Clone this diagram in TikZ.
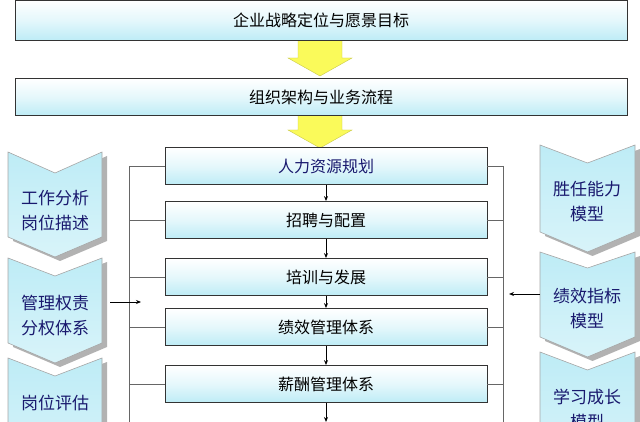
\documentclass[tikz,border=0pt]{standalone}
\usepackage{fontspec}
\setmainfont{Noto Sans CJK SC}
\usetikzlibrary{arrows.meta}
\definecolor{cyanl}{RGB}{190,236,246}
\definecolor{navy}{RGB}{25,25,110}
\definecolor{yel}{RGB}{250,250,90}
\tikzset{
 hbox/.style={draw=black!80,line width=0.8pt,top color=white,bottom color=cyanl,middle color=white!60!cyanl,minimum height=37pt,inner sep=0pt,font=\fontsize{16}{16}\selectfont},
 conn/.style={draw=black!60,line width=0.7pt},
 arr/.style={draw=black,line width=1pt,-{Stealth[length=5pt,width=4pt]}},
 chev/.style={draw=gray!70,line width=0.6pt,top color=cyanl,bottom color=white!40!cyanl},
 chevtxt/.style={text=navy,font=\fontsize{17}{25}\selectfont,align=center},
 yarrow/.style={fill=yel,draw=yel!80!black,line width=0.4pt}
}
\newcommand{\chevron}[5]{%
 \fill[gray!60] ({#1+5},{#3+4}) -- ({(#1+#2)/2+5},{#4+4}) -- ({#2+5},{#3+4}) -- ({#2+5},{#5+4}) -- ({(#1+#2)/2+5},{#5+20+4}) -- ({#1+5},{#5+4}) -- cycle;
 \path[chev] (#1,#3) -- ({(#1+#2)/2},#4) -- (#2,#3) -- (#2,#5) -- ({(#1+#2)/2},{#5+20}) -- (#1,#5) -- cycle;
}
\begin{document}
\begin{tikzpicture}[x=1pt,y=-1pt]
\useasboundingbox (0,0) rectangle (640,422);
\path[yarrow] (298,40) -- (342,40) -- (342,58) -- (352,58) -- (320,76) -- (288,58) -- (298,58) -- cycle;
\path[yarrow] (298,115) -- (342,115) -- (342,130) -- (352,130) -- (320,148) -- (288,130) -- (298,130) -- cycle;
\node[hbox,minimum width=612pt,minimum height=40pt] (top) at (321,20) {企业战略定位与愿景目标};
\node[hbox,minimum width=612pt] (org) at (321,97) {组织架构与业务流程};
\node[hbox,minimum width=322pt] (b1) at (326,166) {\textcolor{navy}{人力资源规划}};
\node[hbox,minimum width=322pt] (b2) at (326,220) {招聘与配置};
\node[hbox,minimum width=322pt] (b3) at (326,277) {培训与发展};
\node[hbox,minimum width=322pt] (b4) at (326,327) {绩效管理体系};
\node[hbox,minimum width=322pt] (b5) at (326,384) {薪酬管理体系};
\coordinate (bend) at (326,422);
\draw[arr] (b1) -- (b2);
\draw[arr] (b2) -- (b3);
\draw[arr] (b3) -- (b4);
\draw[arr] (b4) -- (b5);
\draw[arr] (b5) -- (bend);
\coordinate (lt) at (129,166);
\coordinate (lb) at (129,422);
\coordinate (rt) at (503,166);
\coordinate (rb) at (503,422);
\draw[conn] (lt) -- (lb);
\draw[conn] (rt) -- (rb);
\foreach \n in {b1,b2,b3,b4,b5}{
 \draw[conn] (\n.west) -- (\n.west -| lt);
 \draw[conn] (\n.east) -- (\n.east -| rt);
}
\chevron{8}{102}{152}{173}{237}
\chevron{8}{102}{258}{276}{343}
\chevron{8}{102}{358}{376}{450}
\node[chevtxt] (l1) at (55,211) {工作分析\\岗位描述};
\node[chevtxt] (l2) at (55,316) {管理权责\\分权体系};
\node[chevtxt] (l3) at (55,403) {岗位评估};
\chevron{540}{635}{145}{163}{232}
\chevron{540}{635}{252}{268}{337}
\chevron{540}{635}{352}{370}{450}
\node[chevtxt] (r1) at (587,202) {胜任能力\\模型};
\node[chevtxt] (r2) at (587,309) {绩效指标\\模型};
\node[chevtxt] (r3) at (587,409) {学习成长\\模型};
\coordinate (la) at (110,302);
\coordinate (lae) at (141,302);
\draw[arr] (la) -- (lae);
\coordinate (ra) at (540,294);
\coordinate (rae) at (509,294);
\draw[arr] (ra) -- (rae);
\end{tikzpicture}
\end{document}
